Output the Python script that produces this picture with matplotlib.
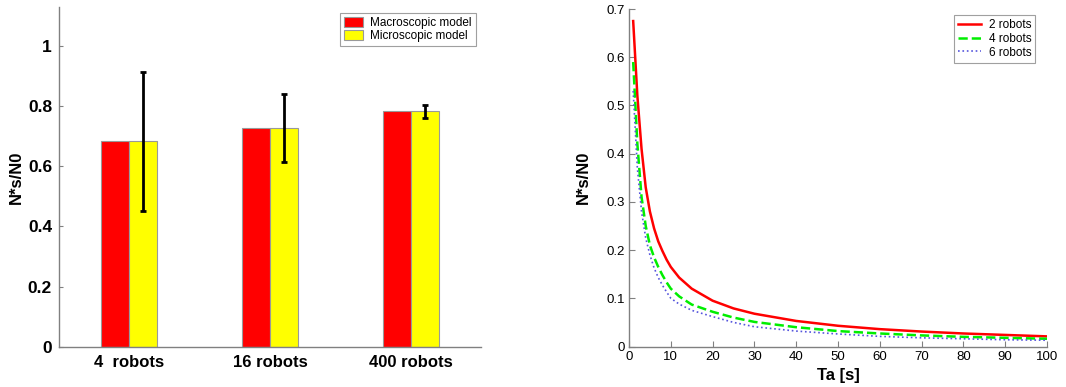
import matplotlib
matplotlib.use("Agg")
import matplotlib.pyplot as plt
import numpy as np

plt.rcParams['font.family'] = ['Liberation Sans', 'DejaVu Sans']

# ---- Left chart data ----
groups = ["4  robots", "16 robots", "400 robots"]
macro_vals = [0.683, 0.726, 0.782]
micro_vals = [0.683, 0.726, 0.782]
micro_err = [0.231, 0.113, 0.022]
left_yticks = [0, 0.2, 0.4, 0.6, 0.8, 1.0]
left_yticklabels = ["0", "0.2", "0.4", "0.6", "0.8", "1"]

# ---- Right chart data ----
ta = [1, 2, 3, 4, 5, 6, 7, 8, 9, 10, 12, 15, 20, 25, 30, 40, 50, 60, 70, 80, 90, 100]
r2 = [0.675, 0.52, 0.41, 0.33, 0.28, 0.245, 0.218, 0.198, 0.18, 0.165, 0.143, 0.12,
      0.095, 0.079, 0.068, 0.053, 0.043, 0.036, 0.031, 0.027, 0.024, 0.021]
r4 = [0.59, 0.42, 0.31, 0.25, 0.21, 0.185, 0.165, 0.148, 0.133, 0.12, 0.104, 0.087,
      0.072, 0.06, 0.051, 0.04, 0.032, 0.027, 0.023, 0.02, 0.018, 0.016]
r6 = [0.53, 0.37, 0.28, 0.225, 0.19, 0.163, 0.143, 0.127, 0.113, 0.10, 0.088, 0.075,
      0.062, 0.05, 0.041, 0.032, 0.026, 0.021, 0.018, 0.016, 0.014, 0.013]
right_xticks = [0, 10, 20, 30, 40, 50, 60, 70, 80, 90, 100]
right_yticks = [0, 0.1, 0.2, 0.3, 0.4, 0.5, 0.6, 0.7]
right_yticklabels = ["0", "0.1", "0.2", "0.3", "0.4", "0.5", "0.6", "0.7"]

W, H = 1066, 387
fig = plt.figure(figsize=(W / 100, H / 100), dpi=100)

spine_c = "#808080"

# ---------- Left ----------
axL = fig.add_axes([59 / W, (H - 347) / H, 422 / W, 340 / H])
x = np.arange(1, len(groups) + 1)
bw = 0.2
axL.bar(x - bw / 2, macro_vals, width=bw, color="#FF0000", edgecolor="#999999",
        linewidth=0.8, label="Macroscopic model", zorder=2)
axL.bar(x + bw / 2, micro_vals, width=bw, color="#FFFF00", edgecolor="#999999",
        linewidth=0.8, label="Microscopic model", zorder=2)
axL.errorbar(x + bw / 2, micro_vals, yerr=micro_err, fmt="none", ecolor="black",
             elinewidth=2, capsize=2.5, capthick=2, zorder=3)
axL.set_xlim(0.5, 3.5)
axL.set_ylim(0, 1.128)
axL.set_xticks(x)
axL.set_xticklabels(groups, fontsize=12, fontweight="bold")
axL.set_yticks(left_yticks)
axL.set_yticklabels(left_yticklabels, fontsize=12.5, fontweight="bold")
axL.tick_params(axis="x", length=0, pad=6)
axL.tick_params(axis="y", direction="in", length=3, color=spine_c, pad=5)
axL.set_ylabel("N*s/N0", fontsize=12, fontweight="bold", labelpad=3)
for s in ["top", "right"]:
    axL.spines[s].set_visible(False)
for s in ["left", "bottom"]:
    axL.spines[s].set_color(spine_c)
    axL.spines[s].set_linewidth(1.0)
legL = axL.legend(loc="upper right", bbox_to_anchor=(0.988, 0.983), fontsize=8.5,
                  frameon=True, fancybox=False, edgecolor="#888888",
                  handlelength=1.6, handleheight=0.85, handletextpad=0.6,
                  borderpad=0.35, labelspacing=0.1, borderaxespad=0)
legL.get_frame().set_linewidth(0.8)

# ---------- Right ----------
axR = fig.add_axes([629 / W, (H - 346.5) / H, 418 / W, 337.5 / H])
axR.plot(ta, r2, color="#FF0000", linestyle="-", linewidth=1.8, label="2 robots")
axR.plot(ta, r4, color="#00EE00", linestyle="--", linewidth=1.8, label="4 robots")
axR.plot(ta, r6, color="#5555DD", linestyle=":", linewidth=1.2, label="6 robots")
axR.set_xlim(0, 100)
axR.set_ylim(0, 0.7)
axR.set_xticks(right_xticks)
axR.set_xticklabels([str(v) for v in right_xticks], fontsize=9.5)
axR.set_yticks(right_yticks)
axR.set_yticklabels(right_yticklabels, fontsize=9.5)
axR.tick_params(direction="in", length=4, color=spine_c, pad=3)
axR.set_xlabel("Ta [s]", fontsize=12, fontweight="bold", labelpad=4)
axR.set_ylabel("N*s/N0", fontsize=12, fontweight="bold", labelpad=11)
for s in ["top", "right"]:
    axR.spines[s].set_visible(False)
for s in ["left", "bottom"]:
    axR.spines[s].set_color(spine_c)
    axR.spines[s].set_linewidth(1.0)
legR = axR.legend(loc="upper right", bbox_to_anchor=(0.972, 0.982), fontsize=8.5,
                  frameon=True, fancybox=False, edgecolor="#888888",
                  handlelength=2.0, handletextpad=0.6, borderpad=0.35,
                  labelspacing=0.14, borderaxespad=0)
legR.get_frame().set_linewidth(0.8)

fig.savefig("out.png", dpi=100)
